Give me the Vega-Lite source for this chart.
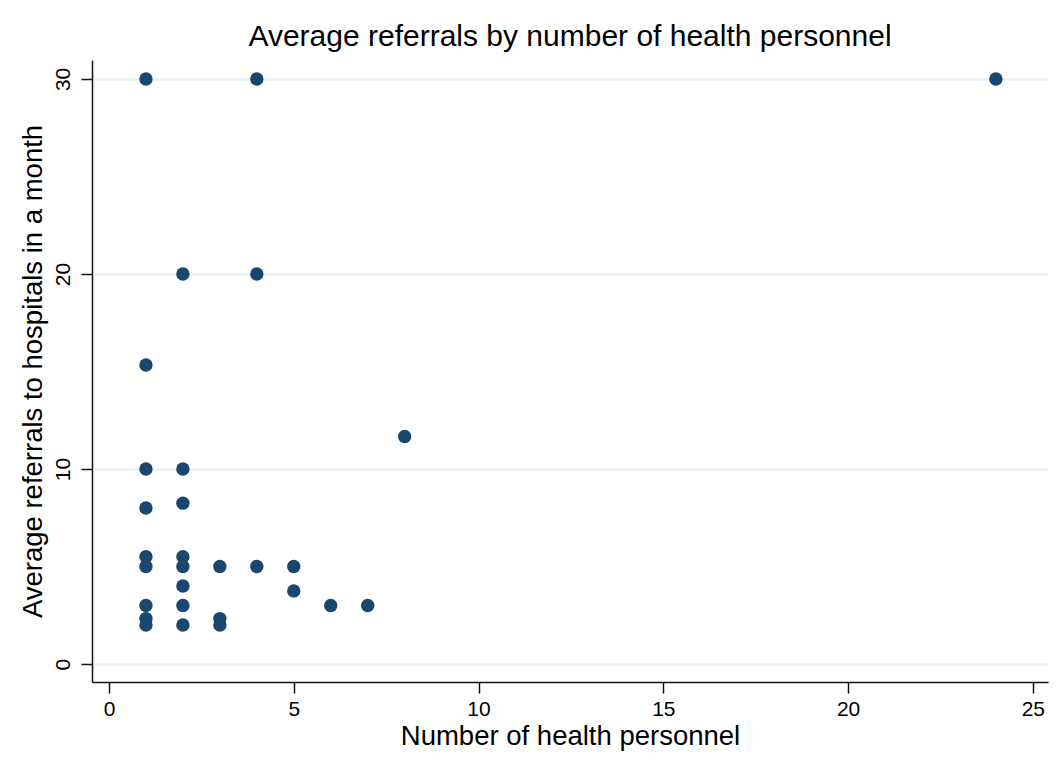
{
  "$schema": "https://vega.github.io/schema/vega-lite/v6.json",
  "width": 956,
  "height": 622,
  "autosize": {"type": "none"},
  "padding": {"left": 92, "top": 60, "right": 11, "bottom": 80},
  "background": "white",
  "title": {
    "text": "Average referrals by number of health personnel",
    "fontSize": 30,
    "font": "Liberation Sans",
    "fontWeight": "normal",
    "color": "black",
    "offset": 8
  },
  "config": {
    "view": {"stroke": null},
    "axis": {
      "labelFont": "Liberation Sans",
      "titleFont": "Liberation Sans",
      "labelColor": "black",
      "titleColor": "black",
      "domainColor": "#111111",
      "domainWidth": 1.5,
      "tickColor": "#111111",
      "tickWidth": 1.5,
      "tickSize": 11,
      "labelFontSize": 21,
      "titleFontSize": 27.5,
      "titleFontWeight": "normal"
    }
  },
  "data": {
    "values": [
      {"personnel": 1, "referrals": 30},
      {"personnel": 1, "referrals": 15.33},
      {"personnel": 1, "referrals": 10},
      {"personnel": 1, "referrals": 8},
      {"personnel": 1, "referrals": 5.5},
      {"personnel": 1, "referrals": 5},
      {"personnel": 1, "referrals": 3},
      {"personnel": 1, "referrals": 2.33},
      {"personnel": 1, "referrals": 2},
      {"personnel": 2, "referrals": 20},
      {"personnel": 2, "referrals": 10},
      {"personnel": 2, "referrals": 8.25},
      {"personnel": 2, "referrals": 5.5},
      {"personnel": 2, "referrals": 5},
      {"personnel": 2, "referrals": 4},
      {"personnel": 2, "referrals": 3},
      {"personnel": 2, "referrals": 2},
      {"personnel": 3, "referrals": 5},
      {"personnel": 3, "referrals": 2.33},
      {"personnel": 3, "referrals": 2},
      {"personnel": 4, "referrals": 30},
      {"personnel": 4, "referrals": 20},
      {"personnel": 4, "referrals": 5},
      {"personnel": 5, "referrals": 5},
      {"personnel": 5, "referrals": 3.75},
      {"personnel": 6, "referrals": 3},
      {"personnel": 7, "referrals": 3},
      {"personnel": 8, "referrals": 11.67},
      {"personnel": 24, "referrals": 30}
    ]
  },
  "mark": {"type": "point", "filled": true, "opacity": 1, "size": 180, "color": "#1a476f"},
  "encoding": {
    "x": {
      "field": "personnel",
      "type": "quantitative",
      "scale": {"domain": [-0.46, 25.41], "nice": false, "zero": false},
      "axis": {
        "values": [0, 5, 10, 15, 20, 25],
        "grid": false,
        "title": "Number of health personnel",
        "labelPadding": 5,
        "titlePadding": 3
      }
    },
    "y": {
      "field": "referrals",
      "type": "quantitative",
      "scale": {"domain": [-0.92, 30.97], "nice": false, "zero": false},
      "axis": {
        "values": [0, 10, 20, 30],
        "grid": true,
        "gridColor": "#eaf2f3",
        "gridWidth": 2.5,
        "labelAngle": -90,
        "labelAlign": "center",
        "labelBaseline": "bottom",
        "labelPadding": 8,
        "title": "Average referrals to hospitals in a month",
        "titlePadding": 5
      }
    }
  }
}
